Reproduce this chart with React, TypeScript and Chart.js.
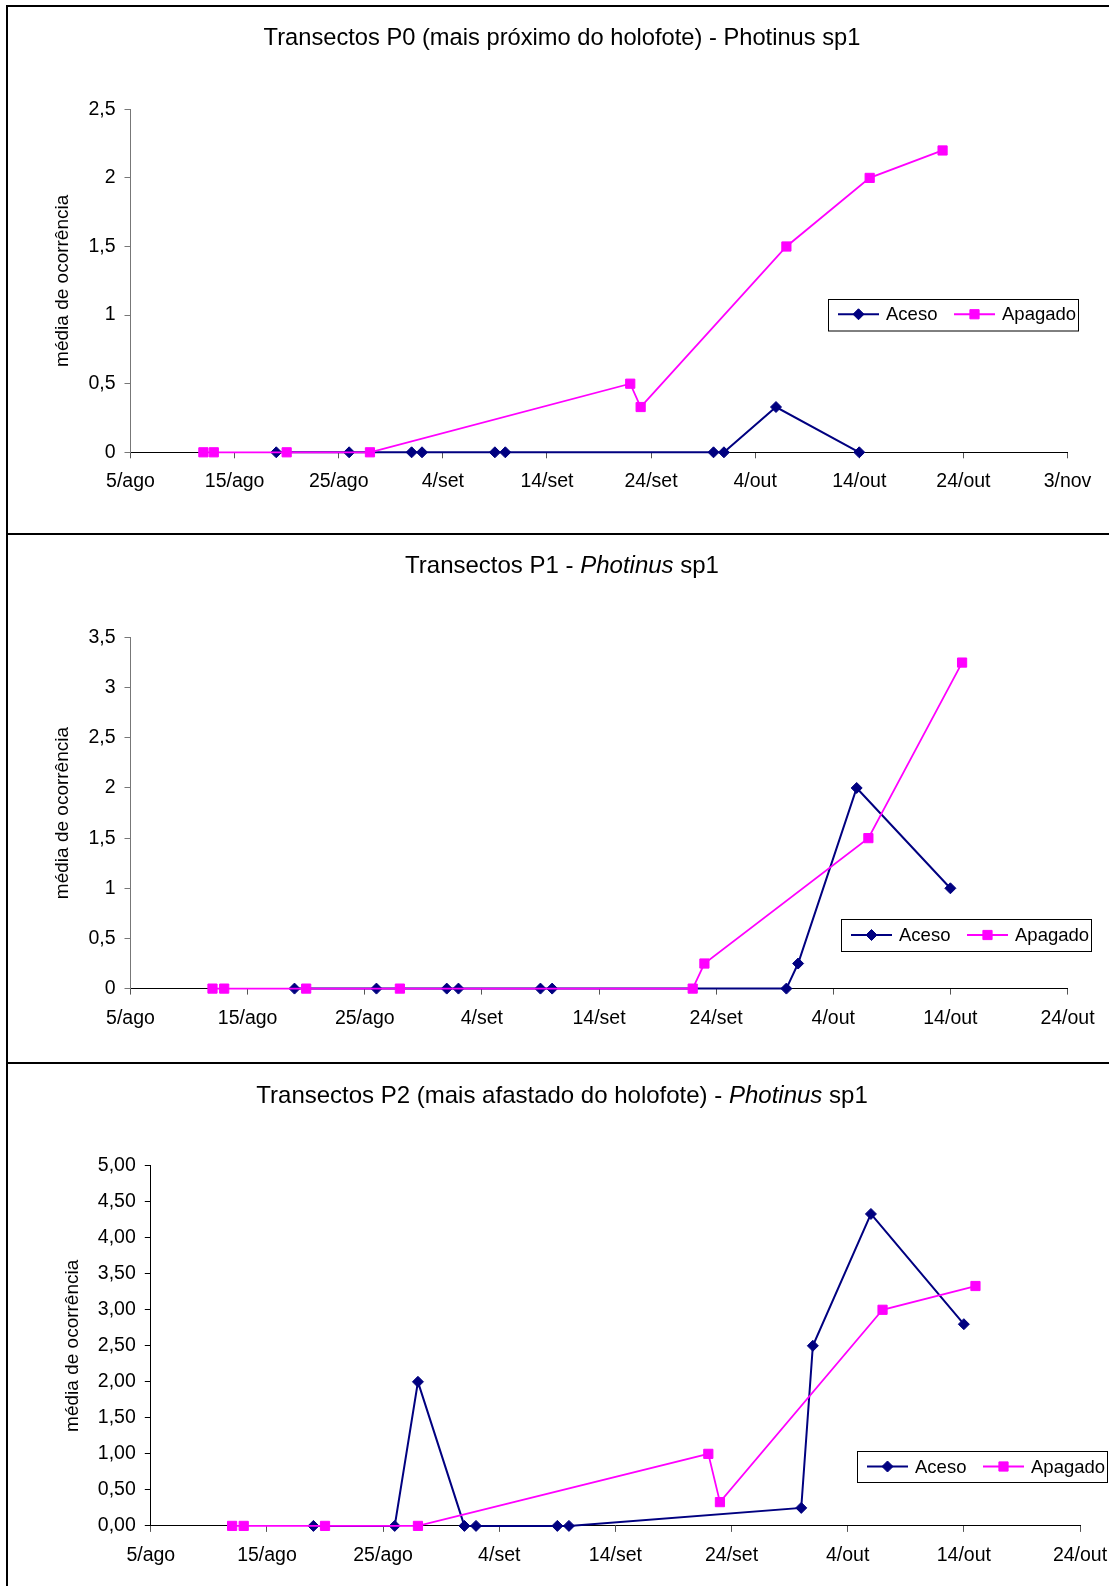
import React, { useEffect, useRef, useState } from 'react';
import { Chart, registerables } from 'chart.js';

Chart.register(...registerables);

if (typeof document !== 'undefined') {
  document.body.style.margin = '0';
}

const FONT_FAMILY = "'Liberation Sans', Arial, Helvetica, sans-serif";
const SERIES_NAMES = ['Aceso', 'Apagado'];
const SERIES_COLORS = ['#000080', '#FF00FF'];
const Y_AXIS_TITLE = 'média de ocorrência';

// ---- P0 (mais próximo do holofote) ----
const p0AcesoDates = ['19/ago', '26/ago', '1/set', '2/set', '9/set', '10/set', '30/set', '1/out', '6/out', '14/out'];
const p0AcesoValues = [0, 0, 0, 0, 0, 0, 0, 0, 0.33, 0];
const p0ApagadoDates = ['12/ago', '13/ago', '20/ago', '28/ago', '22/set', '23/set', '7/out', '15/out', '22/out'];
const p0ApagadoValues = [0, 0, 0, 0, 0.5, 0.33, 1.5, 2, 2.2];

// ---- P1 ----
const p1AcesoDates = ['19/ago', '26/ago', '1/set', '2/set', '9/set', '10/set', '30/set', '1/out', '6/out', '14/out'];
const p1AcesoValues = [0, 0, 0, 0, 0, 0, 0, 0.25, 2, 1];
const p1ApagadoDates = ['12/ago', '13/ago', '20/ago', '28/ago', '22/set', '23/set', '7/out', '15/out'];
const p1ApagadoValues = [0, 0, 0, 0, 0, 0.25, 1.5, 3.25];

// ---- P2 (mais afastado do holofote) ----
const p2AcesoDates = ['19/ago', '26/ago', '28/ago', '1/set', '2/set', '9/set', '10/set', '30/set', '1/out', '6/out', '14/out'];
const p2AcesoValues = [0, 0, 2, 0, 0, 0, 0, 0.25, 2.5, 4.33, 2.8];
const p2ApagadoDates = ['12/ago', '13/ago', '20/ago', '28/ago', '22/set', '23/set', '7/out', '15/out'];
const p2ApagadoValues = [0, 0, 0, 0, 1, 0.33, 3, 3.33];

// ---- tick labels ----
const xTickLabelsP0 = ['5/ago', '15/ago', '25/ago', '4/set', '14/set', '24/set', '4/out', '14/out', '24/out', '3/nov'];
const xTickLabelsP1 = ['5/ago', '15/ago', '25/ago', '4/set', '14/set', '24/set', '4/out', '14/out', '24/out'];
const xTickLabelsP2 = ['5/ago', '15/ago', '25/ago', '4/set', '14/set', '24/set', '4/out', '14/out', '24/out'];
const yTicksP0 = [0, 0.5, 1, 1.5, 2, 2.5];
const yTicksP1 = [0, 0.5, 1, 1.5, 2, 2.5, 3, 3.5];
const yTicksP2 = [0, 0.5, 1, 1.5, 2, 2.5, 3, 3.5, 4, 4.5, 5];

const MONTH_OFFSET: Record<string, number> = { ago: -5, set: 26, out: 56, nov: 87 };
function dayIndex(label: string): number {
  const parts = label.split('/');
  return Number(parts[0]) + MONTH_OFFSET[parts[1]];
}
function toPoints(dates: string[], values: number[]) {
  return dates.map((d, i) => ({ x: dayIndex(d), y: values[i] }));
}

function drawMarker(ctx: CanvasRenderingContext2D, style: string, x: number, y: number, r: number, color: string) {
  ctx.beginPath();
  if (style === 'rectRot') {
    ctx.moveTo(x - r, y);
    ctx.lineTo(x, y - r);
    ctx.lineTo(x + r, y);
    ctx.lineTo(x, y + r);
  } else {
    const s = r * Math.SQRT1_2;
    ctx.rect(x - s, y - s, 2 * s, 2 * s);
  }
  ctx.closePath();
  ctx.fillStyle = color;
  ctx.fill();
  ctx.lineWidth = 1;
  ctx.strokeStyle = color;
  ctx.stroke();
}

type Box = { x: number; y: number; w: number; h: number };

function makeLegendPlugin(box: Box) {
  return {
    id: 'boxLegend',
    afterDraw(chart: any) {
      const ctx: CanvasRenderingContext2D = chart.ctx;
      ctx.save();
      ctx.fillStyle = '#fff';
      ctx.fillRect(box.x, box.y, box.w, box.h);
      ctx.strokeStyle = '#000';
      ctx.lineWidth = 1;
      ctx.strokeRect(Math.round(box.x) + 0.5, Math.round(box.y) + 0.5, box.w, box.h);
      const cy = box.y + box.h / 2;
      const offsets = [10, 126];
      chart.data.datasets.forEach((ds: any, i: number) => {
        const x0 = box.x + offsets[i];
        ctx.strokeStyle = ds.borderColor;
        ctx.lineWidth = ds.borderWidth;
        ctx.beginPath();
        ctx.moveTo(x0, cy);
        ctx.lineTo(x0 + 41, cy);
        ctx.stroke();
        drawMarker(ctx, ds.pointStyle, x0 + 20.5, cy, ds.pointRadius, ds.borderColor);
        ctx.fillStyle = '#000';
        ctx.font = '18.5px ' + FONT_FAMILY;
        ctx.textBaseline = 'middle';
        ctx.textAlign = 'left';
        ctx.fillText(ds.label, x0 + 48, cy + 1);
      });
      ctx.restore();
    },
  };
}

type PanelCfg = {
  canvas: { left: number; top: number; width: number; height: number };
  padTop: number;
  padRight: number;
  yWidth: number;
  xHeight: number;
  yTitlePad: number;
  xTicks: string[];
  yTicks: number[];
  yDecimals: number;
  yAxisColor: string;
  aceso: { x: number; y: number }[];
  apagado: { x: number; y: number }[];
  legend: Box;
};

function Panel({ cfg }: { cfg: PanelCfg }) {
  const ref = useRef<HTMLCanvasElement>(null);
  const [err, setErr] = useState('');
  useEffect(() => {
    let chart: any = null;
    try {
      const tickFont = { family: FONT_FAMILY, size: 19.5 };
      const xMax = dayIndex(cfg.xTicks[cfg.xTicks.length - 1]);
      const yMax = cfg.yTicks[cfg.yTicks.length - 1];
      chart = new Chart(ref.current as HTMLCanvasElement, {
        type: 'line',
        data: {
          datasets: [
            {
              label: SERIES_NAMES[0],
              data: cfg.aceso,
              borderColor: SERIES_COLORS[0],
              backgroundColor: SERIES_COLORS[0],
              borderWidth: 2,
              pointStyle: 'rectRot',
              pointRadius: 5.5,
              pointBorderWidth: 1,
              tension: 0,
              clip: false,
              order: 1,
            },
            {
              label: SERIES_NAMES[1],
              data: cfg.apagado,
              borderColor: SERIES_COLORS[1],
              backgroundColor: SERIES_COLORS[1],
              borderWidth: 1.8,
              pointStyle: 'rect',
              pointRadius: 6.5,
              pointBorderWidth: 1,
              tension: 0,
              clip: false,
              order: 0,
            },
          ],
        },
        options: {
          responsive: false,
          animation: false,
          devicePixelRatio: 1,
          layout: { padding: { top: cfg.padTop, right: cfg.padRight, left: 0, bottom: 0 } },
          plugins: {
            legend: { display: false },
            tooltip: { enabled: false },
            title: { display: false },
          },
          scales: {
            x: {
              type: 'linear',
              min: 0,
              max: xMax,
              afterBuildTicks: (scale: any) => {
                scale.ticks = cfg.xTicks.map((l) => ({ value: dayIndex(l) }));
              },
              afterFit: (scale: any) => {
                scale.height = cfg.xHeight;
                scale.paddingLeft = 0;
                scale.paddingRight = 0;
              },
              grid: { drawOnChartArea: false, drawTicks: true, tickLength: 6, tickColor: '#555' },
              border: { color: '#000', width: 1 },
              ticks: {
                autoSkip: false,
                maxRotation: 0,
                minRotation: 0,
                padding: 12,
                color: '#000',
                font: tickFont,
                callback: (_v: any, i: number) => cfg.xTicks[i],
              },
            },
            y: {
              type: 'linear',
              min: 0,
              max: yMax,
              afterBuildTicks: (scale: any) => {
                scale.ticks = cfg.yTicks.map((v) => ({ value: v }));
              },
              afterFit: (scale: any) => {
                scale.width = cfg.yWidth;
                scale.paddingTop = 0;
                scale.paddingBottom = 0;
              },
              grid: { drawOnChartArea: false, drawTicks: true, tickLength: 6, tickColor: cfg.yAxisColor },
              border: { color: cfg.yAxisColor, width: 1 },
              ticks: {
                padding: 9,
                color: '#000',
                font: tickFont,
                callback: (v: any) =>
                  cfg.yDecimals > 0 ? Number(v).toFixed(cfg.yDecimals).replace('.', ',') : String(v).replace('.', ','),
              },
              title: {
                display: true,
                text: Y_AXIS_TITLE,
                color: '#000',
                font: { family: FONT_FAMILY, size: 19 },
                padding: { top: cfg.yTitlePad, bottom: 0 },
              },
            },
          },
        } as any,
        plugins: [makeLegendPlugin(cfg.legend)],
      } as any);
    } catch (e: any) {
      setErr(String(e && e.stack ? e.stack : e));
    }
    return () => {
      if (chart) chart.destroy();
    };
  }, []);
  const c = cfg.canvas;
  return (
    <>
      <canvas
        ref={ref}
        width={c.width}
        height={c.height}
        style={{ position: 'absolute', left: c.left, top: c.top, width: c.width, height: c.height, display: 'block' }}
      />
      {err ? (
        <div style={{ position: 'absolute', left: c.left + 20, top: c.top + 60, fontSize: 12, color: 'red', width: 900 }}>{err}</div>
      ) : null}
    </>
  );
}

const panelP0: PanelCfg = {
  canvas: { left: 8, top: 7, width: 1101, height: 526 },
  padTop: 102.3,
  padRight: 41.5,
  yWidth: 122.5,
  xHeight: 80.7,
  yTitlePad: 43.6,
  xTicks: xTickLabelsP0,
  yTicks: yTicksP0,
  yDecimals: 0,
  yAxisColor: '#777',
  aceso: toPoints(p0AcesoDates, p0AcesoValues),
  apagado: toPoints(p0ApagadoDates, p0ApagadoValues),
  legend: { x: 820, y: 291.5, w: 250, h: 31.5 },
};

const panelP1: PanelCfg = {
  canvas: { left: 8, top: 535, width: 1101, height: 527 },
  padTop: 102.5,
  padRight: 41.5,
  yWidth: 122.5,
  xHeight: 73.4,
  yTitlePad: 43.3,
  xTicks: xTickLabelsP1,
  yTicks: yTicksP1,
  yDecimals: 0,
  yAxisColor: '#777',
  aceso: toPoints(p1AcesoDates, p1AcesoValues),
  apagado: toPoints(p1ApagadoDates, p1ApagadoValues),
  legend: { x: 833, y: 384, w: 250, h: 32 },
};

const panelP2: PanelCfg = {
  canvas: { left: 8, top: 1064, width: 1101, height: 522 },
  padTop: 101.7,
  padRight: 29,
  yWidth: 142.8,
  xHeight: 60.1,
  yTitlePad: 53.5,
  xTicks: xTickLabelsP2,
  yTicks: yTicksP2,
  yDecimals: 2,
  yAxisColor: '#000',
  aceso: toPoints(p2AcesoDates, p2AcesoValues),
  apagado: toPoints(p2ApagadoDates, p2ApagadoValues),
  legend: { x: 849, y: 387, w: 250, h: 31 },
};

function titleStyle(top: number, size: number): any {
  return {
    position: 'absolute',
    left: 15,
    width: 1094,
    top: top,
    height: 30,
    lineHeight: '30px',
    textAlign: 'center',
    fontFamily: FONT_FAMILY,
    fontSize: size,
    color: '#000',
    whiteSpace: 'nowrap',
    zIndex: 2,
  };
}

function boxStyle(top: number, height: number): any {
  return {
    position: 'absolute',
    left: 6,
    top: top,
    width: 1103,
    height: height,
    borderTop: '2px solid #000',
    borderLeft: '2px solid #000',
    boxSizing: 'border-box',
  };
}

export default function App() {
  return (
    <div style={{ position: 'relative', width: 1109, height: 1586, overflow: 'hidden', background: '#fff' }}>
      <div style={boxStyle(5, 530)} />
      <div style={boxStyle(533, 531)} />
      <div style={boxStyle(1062, 524)} />
      <Panel cfg={panelP0} />
      <Panel cfg={panelP1} />
      <Panel cfg={panelP2} />
      <div style={titleStyle(22, 23.7)}>Transectos P0 (mais próximo do holofote) - Photinus sp1</div>
      <div style={titleStyle(550, 24)}>
        Transectos P1 - <i>Photinus</i> sp1
      </div>
      <div style={titleStyle(1080, 24)}>
        Transectos P2 (mais afastado do holofote) - <i>Photinus</i> sp1
      </div>
    </div>
  );
}
